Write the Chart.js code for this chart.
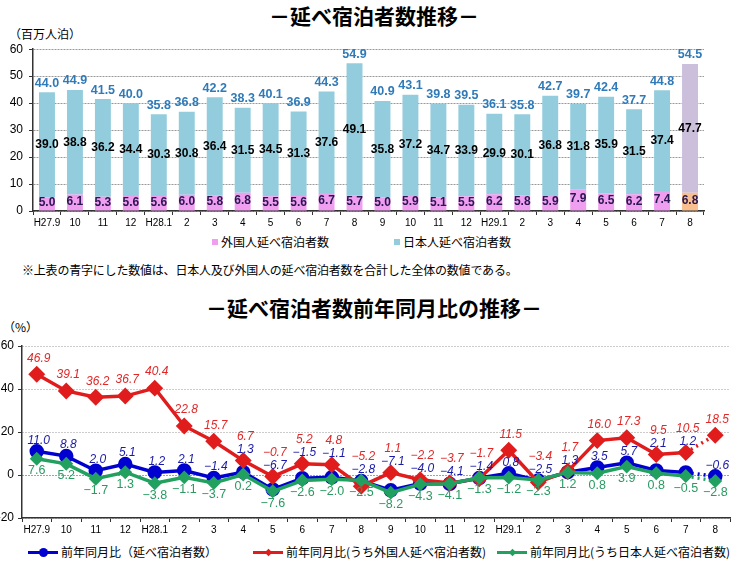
<!DOCTYPE html>
<html>
<head>
<meta charset="utf-8">
<script src="https://cdn.jsdelivr.net/npm/chart.js@4.4.1/dist/chart.umd.min.js"></script>
<style>
    body { margin: 0; width: 748px; height: 567px; background: #fff; position: relative; overflow: hidden;
           font-family: "Liberation Sans", "Noto Sans CJK JP", sans-serif; color: #000; }
    .abs { position: absolute; white-space: nowrap; }
    .title { left: 0; width: 748px; text-align: center; font-family: "Noto Sans CJK JP"; font-weight: bold; font-size: 21px; line-height: 24px; }
    .jp { font-family: "Noto Sans CJK JP"; font-size: 12px; line-height: 14px; }
    .sq { display: inline-block; width: 6px; height: 6px; margin-right: 3px; vertical-align: 2px; }
    .ln { display: inline-block; position: relative; width: 30px; height: 3px; margin-right: 3px; vertical-align: 3px; }
    .ln i { position: absolute; left: 11px; top: -3px; width: 9px; height: 9px; }
    canvas { position: absolute; left: 0; }
</style>
</head>
<body>

<div class="abs title" style="top:3px">－延べ宿泊者数推移－</div>
<div class="abs jp" style="left:9px;top:27px">（百万人泊）</div>
<canvas id="stayChart" width="748" height="197" style="top:36px"></canvas>
<div class="abs jp" style="left:212px;top:235px"><span class="sq" style="background:#f09ef0"></span>外国人延べ宿泊者数</div>
<div class="abs jp" style="left:394px;top:235px"><span class="sq" style="background:#93cddd"></span>日本人延べ宿泊者数</div>
<div class="abs jp" style="left:22px;top:263px;letter-spacing:-0.2px">※上表の青字にした数値は、日本人及び外国人の延べ宿泊者数を合計した全体の数値である。</div>

<div class="abs title" style="top:295px">－延べ宿泊者数前年同月比の推移－</div>
<div class="abs jp" style="left:3px;top:320px">（%）</div>
<canvas id="rateChart" width="748" height="209" style="top:333px"></canvas>
<div class="abs jp" style="left:28px;top:545px"><span class="ln" style="background:#0000d0"><i style="background:#0000d0;border-radius:50%"></i></span>前年同月比（延べ宿泊者数）</div>
<div class="abs jp" style="left:253px;top:545px"><span class="ln" style="background:#e01c1c"><i style="background:#e01c1c;transform:rotate(45deg) scale(.6)"></i></span>前年同月比(うち外国人延べ宿泊者数)</div>
<div class="abs jp" style="left:497px;top:545px"><span class="ln" style="background:#22a060"><i style="background:#22a060;transform:rotate(45deg) scale(.6)"></i></span>前年同月比(うち日本人延べ宿泊者数)</div>

<script>
// months H27.9 .. H29.8
const months = ["H27.9", "10", "11", "12", "H28.1", "2", "3", "4", "5", "6", "7", "8",
                "9", "10", "11", "12", "H29.1", "2", "3", "4", "5", "6", "7", "8"];

// 延べ宿泊者数 (百万人泊)
const foreignStays = [5.0, 6.1, 5.3, 5.6, 5.6, 6.0, 5.8, 6.8, 5.5, 5.6, 6.7, 5.7,
                      5.0, 5.9, 5.1, 5.5, 6.2, 5.8, 5.9, 7.9, 6.5, 6.2, 7.4, 6.8];
const japaneseStays = [39.0, 38.8, 36.2, 34.4, 30.3, 30.8, 36.4, 31.5, 34.5, 31.3, 37.6, 49.1,
                       35.8, 37.2, 34.7, 33.9, 29.9, 30.1, 36.8, 31.8, 35.9, 31.5, 37.4, 47.7];
const totalStays = [44.0, 44.9, 41.5, 40.0, 35.8, 36.8, 42.2, 38.3, 40.1, 36.9, 44.3, 54.9,
                    40.9, 43.1, 39.8, 39.5, 36.1, 35.8, 42.7, 39.7, 42.4, 37.7, 44.8, 54.5];

// 前年同月比 (%)
const totalRate = [11.0, 8.8, 2.0, 5.1, 1.2, 2.1, -1.4, 1.3, -6.7, -1.5, -1.1, -2.8,
                   -7.1, -4.0, -4.1, -1.4, 0.8, -2.5, 1.3, 3.5, 5.7, 2.1, 1.2, -0.6];
const foreignRate = [46.9, 39.1, 36.2, 36.7, 40.4, 22.8, 15.7, 6.7, -0.7, 5.2, 4.8, -5.2,
                     1.1, -2.2, -3.7, -1.7, 11.5, -3.4, 1.7, 16.0, 17.3, 9.5, 10.5, 18.5];
const japaneseRate = [7.6, 5.2, -1.7, 1.3, -3.8, -1.1, -3.7, 0.2, -7.6, -2.6, -2.0, -2.5,
                      -8.2, -4.3, -4.1, -1.3, -1.2, -2.3, 1.2, 0.8, 3.9, 0.8, -0.5, -2.8];

function fmt(v) {
    return (v < 0 ? "\u2212" : "") + Math.abs(v).toFixed(1);
}

const last = months.length - 1;
const foreignColors = months.map((m, i) => i === last ? "#f9bf8f" : "#f09ef0");
const japaneseColors = months.map((m, i) => i === last ? "#cbbfdc" : "#93cddd");

// text on the bars
const barLabels = {
    id: "barLabels",
    afterDatasetsDraw(chart) {
        let ctx = chart.ctx;
        let fMeta = chart.getDatasetMeta(0);
        let jMeta = chart.getDatasetMeta(1);
        ctx.save();
        ctx.textAlign = "center";
        ctx.textBaseline = "middle";
        ctx.font = "bold 12px 'Liberation Sans'";
        fMeta.data.forEach((bar, i) => {
            ctx.fillStyle = "#2a1650";
            ctx.fillText(foreignStays[i].toFixed(1), bar.x, (bar.y + bar.base) / 2 - 1);
        });
        jMeta.data.forEach((bar, i) => {
            ctx.fillStyle = "#000";
            ctx.fillText(japaneseStays[i].toFixed(1), bar.x, (bar.y + bar.base) / 2);
            ctx.fillStyle = "#2f7ab8";
            ctx.font = "bold 12.5px 'Liberation Sans'";
            ctx.fillText(totalStays[i].toFixed(1), bar.x, bar.y - 9);
            ctx.font = "bold 12px 'Liberation Sans'";
        });
        ctx.restore();
    }
};

new Chart(document.getElementById("stayChart"), {
    type: "bar",
    data: {
        labels: months,
        datasets: [
            { label: "外国人延べ宿泊者数", data: foreignStays, backgroundColor: foreignColors },
            { label: "日本人延べ宿泊者数", data: japaneseStays, backgroundColor: japaneseColors }
        ]
    },
    options: {
        responsive: false,
        animation: false,
        layout: { padding: { top: 12, right: 44, left: 0, bottom: 0 } },
        categoryPercentage: 1,
        barPercentage: 0.57,
        plugins: { legend: { display: false }, tooltip: { enabled: false } },
        scales: {
            x: {
                stacked: true,
                afterFit: s => { s.height = 22; },
                border: { color: "#333", width: 1.5 },
                grid: { drawOnChartArea: false, tickLength: 4, color: "#333" },
                ticks: { color: "#000", font: { size: 10, family: "Liberation Sans" }, padding: 2, maxRotation: 0, autoSkip: false }
            },
            y: {
                stacked: true,
                min: 0, max: 60,
                afterFit: s => { s.width = 33; },
                border: { color: "#333", width: 1.5, dash: [2, 1] },
                grid: { color: "#999", tickLength: 4, tickColor: "#333" },
                ticks: { stepSize: 10, color: "#000", font: { size: 12, family: "Liberation Sans" }, padding: 6 }
            }
        }
    },
    plugins: [barLabels]
});

// text next to the line points: red and blue above, green below.
// when the red and blue points are close, the two labels are stacked
const lineLabels = {
    id: "lineLabels",
    afterDatasetsDraw(chart) {
        let ctx = chart.ctx;
        let blue = chart.getDatasetMeta(0).data;
        let red = chart.getDatasetMeta(1).data;
        let green = chart.getDatasetMeta(2).data;
        ctx.save();
        ctx.textAlign = "center";
        ctx.textBaseline = "middle";
        months.forEach((m, i) => {
            let b = blue[i], r = red[i], g = green[i];
            let redY = r.y - 16, blueY = b.y - 11;
            if (Math.abs(r.y - b.y) < 20) {
                let top = Math.min(r.y, b.y);
                redY = top - 24;
                blueY = top - 11;
            }
            ctx.font = "italic 12px 'Liberation Sans'";
            ctx.fillStyle = "#e02828";
            ctx.fillText(fmt(foreignRate[i]), r.x + 2, redY);
            ctx.fillStyle = "#1a1aa8";
            ctx.fillText(fmt(totalRate[i]), b.x + 2, blueY);
            ctx.font = "12.5px 'Liberation Sans'";
            ctx.fillStyle = "#2a9a62";
            ctx.fillText(fmt(japaneseRate[i]), g.x, g.y + 12);
        });
        ctx.restore();
    }
};

const dottedLast = ctx => ctx.p1DataIndex === last ? [2, 4] : undefined;

new Chart(document.getElementById("rateChart"), {
    type: "line",
    data: {
        labels: months,
        datasets: [
            { label: "前年同月比（延べ宿泊者数）", data: totalRate, borderColor: "#0000d0", backgroundColor: "#0000d0",
              borderWidth: 3.5, pointStyle: "circle", pointRadius: 5.5, order: 2, segment: { borderDash: dottedLast } },
            { label: "前年同月比(うち外国人延べ宿泊者数)", data: foreignRate, borderColor: "#e01c1c", backgroundColor: "#e01c1c",
              borderWidth: 3.5, pointStyle: "rectRot", pointRadius: 6, order: 1, segment: { borderDash: dottedLast } },
            { label: "前年同月比(うち日本人延べ宿泊者数)", data: japaneseRate, borderColor: "#22a060", backgroundColor: "#22a060",
              borderWidth: 3.5, pointStyle: "rectRot", pointRadius: 4.5, order: 0, segment: { borderDash: dottedLast } }
        ]
    },
    options: {
        responsive: false,
        animation: false,
        layout: { padding: { top: 13, right: 18, left: 0, bottom: 0 } },
        plugins: { legend: { display: false }, tooltip: { enabled: false } },
        scales: {
            x: {
                offset: true,
                afterFit: s => { s.height = 24; },
                border: { color: "#333", width: 1.5 },
                grid: { offset: true, drawOnChartArea: false, tickLength: 4, color: "#333" },
                ticks: { color: "#000", font: { size: 10, family: "Liberation Sans" }, padding: 2, maxRotation: 0, autoSkip: false }
            },
            y: {
                min: -20, max: 60,
                afterFit: s => { s.width = 22; },
                border: { color: "#333", width: 1.5, dash: [1, 2] },
                grid: { color: c => c.tick.value === 0 ? "#444" : "#999", tickLength: 4, tickColor: "#333" },
                ticks: { stepSize: 20, color: "#000", font: { size: 12, family: "Liberation Sans" }, padding: 4 }
            }
        }
    },
    plugins: [lineLabels]
});
</script>
</body>
</html>
